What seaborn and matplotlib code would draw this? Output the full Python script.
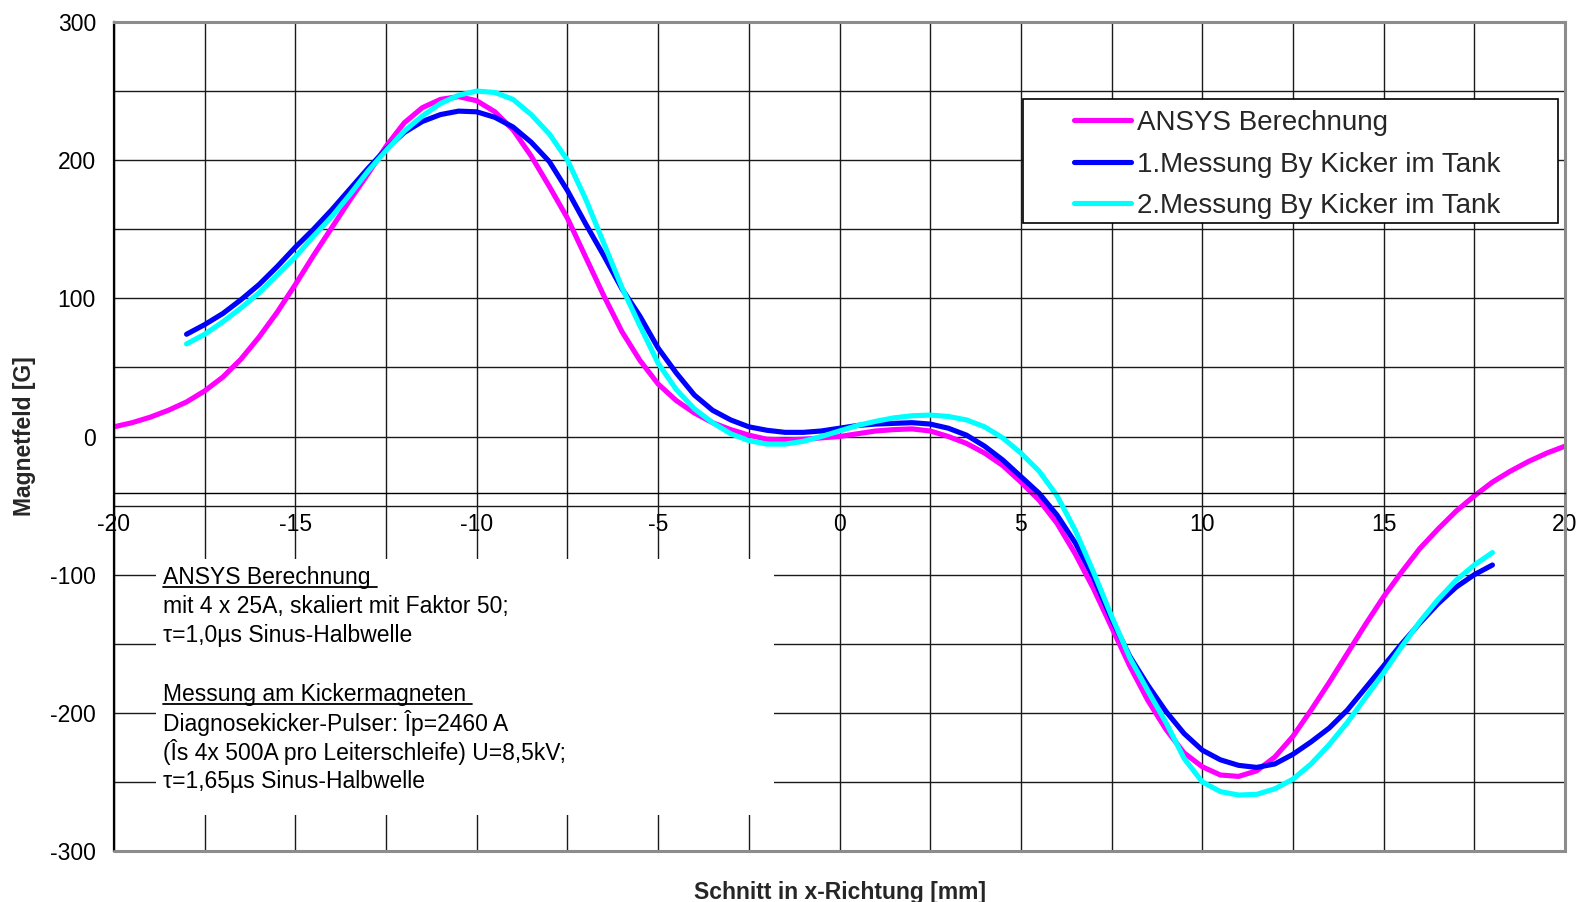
import matplotlib
matplotlib.use("Agg")
import matplotlib.pyplot as plt
import seaborn as sns
import numpy as np
from matplotlib.patches import Rectangle
from matplotlib.lines import Line2D

sns.set_theme(style="white")
plt.rcParams["font.family"] = ["Liberation Sans", "DejaVu Sans"]
plt.rcParams["axes.unicode_minus"] = False

MAGENTA = "#FF00FF"
BLUE = "#0000FF"
CYAN = "#00FFFF"

# x positions [mm], 0.5 mm steps
x_ansys = np.arange(-20, 20.01, 0.5)
x_mess = np.arange(-18, 18.01, 0.5)

# ANSYS Berechnung, -20 .. 20 mm
ansys = [
    7, 10, 14, 19, 25, 33, 43, 56, 72, 90,
    110, 131, 151, 171, 190, 210, 227, 238, 244, 246,
    243, 235, 222, 203, 181, 158, 130, 102, 76, 55,
    38, 26, 17, 10, 5, 1, -2, -2.5, -2, -1,
    0, 2, 4, 5, 5.5, 4, 0, -5, -12, -21,
    -33, -46, -63, -85, -110, -138, -166, -191, -212, -229,
    -239, -245, -246, -242, -232, -217, -198, -178, -157, -136,
    -116, -98, -81, -67, -54, -43, -33, -25, -18, -12,
    -7,
]

# 1.Messung By Kicker im Tank, -18 .. 18 mm
mess1 = [
    74, 81, 89, 99, 110, 123, 137, 150, 164, 179,
    194, 208, 220, 228, 233, 235.5, 235, 231, 224, 213,
    199, 178, 154, 131, 107, 87, 64, 46, 30, 19,
    12, 7, 4.5, 3, 3, 4, 6, 8, 9, 9.5,
    10, 9, 6, 1, -7, -17, -29, -41, -57, -77,
    -102, -132, -159, -180, -199, -215, -227, -234, -238, -239.5,
    -237, -230, -221, -211, -198, -182, -166, -150, -135, -121,
    -109, -100, -93,
]

# 2.Messung By Kicker im Tank, -18 .. 18 mm
mess2 = [
    67, 74, 83, 93, 104, 117, 130, 145, 159, 175,
    192, 207, 221, 232, 241, 247, 250, 249, 244, 233,
    219, 200, 172, 140, 108, 80, 53, 34, 20, 10,
    2, -3, -5.5, -5.5, -3.5, 0, 4, 8, 11, 13.5,
    15, 15.5, 14.5, 12, 7, -1, -12, -25, -43, -68,
    -98, -130, -160, -184, -207, -233, -250, -257, -259.5, -259,
    -255, -248, -237, -223, -207, -189, -171, -152, -134, -118,
    -104, -93, -84,
]

note_lines = [
    "ANSYS Berechnung ",
    "mit 4 x 25A, skaliert mit Faktor 50;",
    "τ=1,0µs Sinus-Halbwelle",
    "Messung am Kickermagneten ",
    "Diagnosekicker-Pulser: Îp=2460 A",
    "(Îs 4x 500A pro Leiterschleife) U=8,5kV;",
    "τ=1,65µs Sinus-Halbwelle",
]
note_y = [-102.2, -123.3, -144.3, -186.7, -207.0, -228.0, -250.0]
underlined = [0, 3]

W, H = 1579, 902
fig = plt.figure(figsize=(W / 100, H / 100), dpi=100)
ax = fig.add_axes([114 / W, 1 - 851 / H, (1565 - 114) / W, (851 - 22) / H])

sns.lineplot(x=x_ansys, y=ansys, color=MAGENTA, lw=3.7, label="ANSYS Berechnung",
             ax=ax, solid_capstyle="round")
sns.lineplot(x=x_mess, y=mess1, color=BLUE, lw=3.7, label="1.Messung By Kicker im Tank",
             ax=ax, solid_capstyle="round")
sns.lineplot(x=x_mess, y=mess2, color=CYAN, lw=3.7, label="2.Messung By Kicker im Tank",
             ax=ax, solid_capstyle="round")

ax.set_xlim(-20, 20)
ax.set_ylim(-300, 300)
ax.set_xticks(np.arange(-20, 21, 5))
ax.set_xticks(np.arange(-20, 21, 2.5), minor=True)
ax.set_yticks(np.arange(-300, 301, 100))
ax.set_yticks(np.arange(-300, 301, 50), minor=True)
ax.set_axisbelow(True)
ax.grid(which="both", color="#1a1a1a", lw=1.0)
ax.tick_params(axis="x", which="major", direction="out", length=4, width=1,
               pad=11, labelsize=16.5, colors="black")
ax.tick_params(axis="y", which="major", direction="out", length=5, width=1,
               pad=8, labelsize=16.5, colors="black")
ax.tick_params(which="minor", length=0)

# frame like the spreadsheet chart
for side in ["top", "right"]:
    ax.spines[side].set_color("#8c8c8c")
    ax.spines[side].set_linewidth(2.2)
ax.spines["left"].set_color("black")
ax.spines["left"].set_linewidth(1.6)
ax.spines["bottom"].set_position(("data", -40.6))
ax.spines["bottom"].set_color("black")
ax.spines["bottom"].set_linewidth(1.0)
ax.axhline(-300, color="#8c8c8c", lw=2.2, clip_on=False, zorder=3)

ax.set_xlabel("Schnitt in x-Richtung [mm]", fontsize=16.5, fontweight="bold")
ax.xaxis.set_label_coords(0.5, -(892 - 851) / 829)
ax.xaxis.label.set_va("center")
ax.set_ylabel("Magnetfeld [G]", fontsize=16.5, fontweight="bold")
ax.yaxis.set_label_coords((25 - 114) / 1451, 0.5)
ax.yaxis.label.set_va("center")

# note box
ax.add_patch(Rectangle((-18.84, -274), 17.04, 185.4, facecolor="white",
                       edgecolor="none", zorder=1))
texts = []
for s, yv in zip(note_lines, note_y):
    texts.append(ax.text(-18.65, yv, s, fontsize=16.5, va="center", ha="left",
                         color="black", zorder=3))

# legend
handles, labels = ax.get_legend_handles_labels()
ax.add_artist(Rectangle((1023 / W, 1 - 223 / H), 535 / W, 124 / H,
                        transform=fig.transFigure, facecolor="white",
                        edgecolor="black", lw=1.2, zorder=4, clip_on=False))
ax.legend(handles, labels, loc="upper left",
          bbox_to_anchor=(1074 / W, 1 - 110 / H), bbox_transform=fig.transFigure,
          frameon=False, borderpad=0, borderaxespad=0, handlelength=2.05,
          handletextpad=0.23, labelspacing=0.56, fontsize=20)

fig.canvas.draw()
r = fig.canvas.get_renderer()
inv = fig.transFigure.inverted()
for i in underlined:
    bb = texts[i].get_window_extent(r)
    (x0, y0), (x1, _) = inv.transform([(bb.x0, bb.y0 + 2), (bb.x1, bb.y0 + 2)])
    fig.add_artist(Line2D([x0, x1], [y0, y0], transform=fig.transFigure,
                          color="black", lw=1.3))

fig.savefig("out.png", dpi=100, facecolor="w")
